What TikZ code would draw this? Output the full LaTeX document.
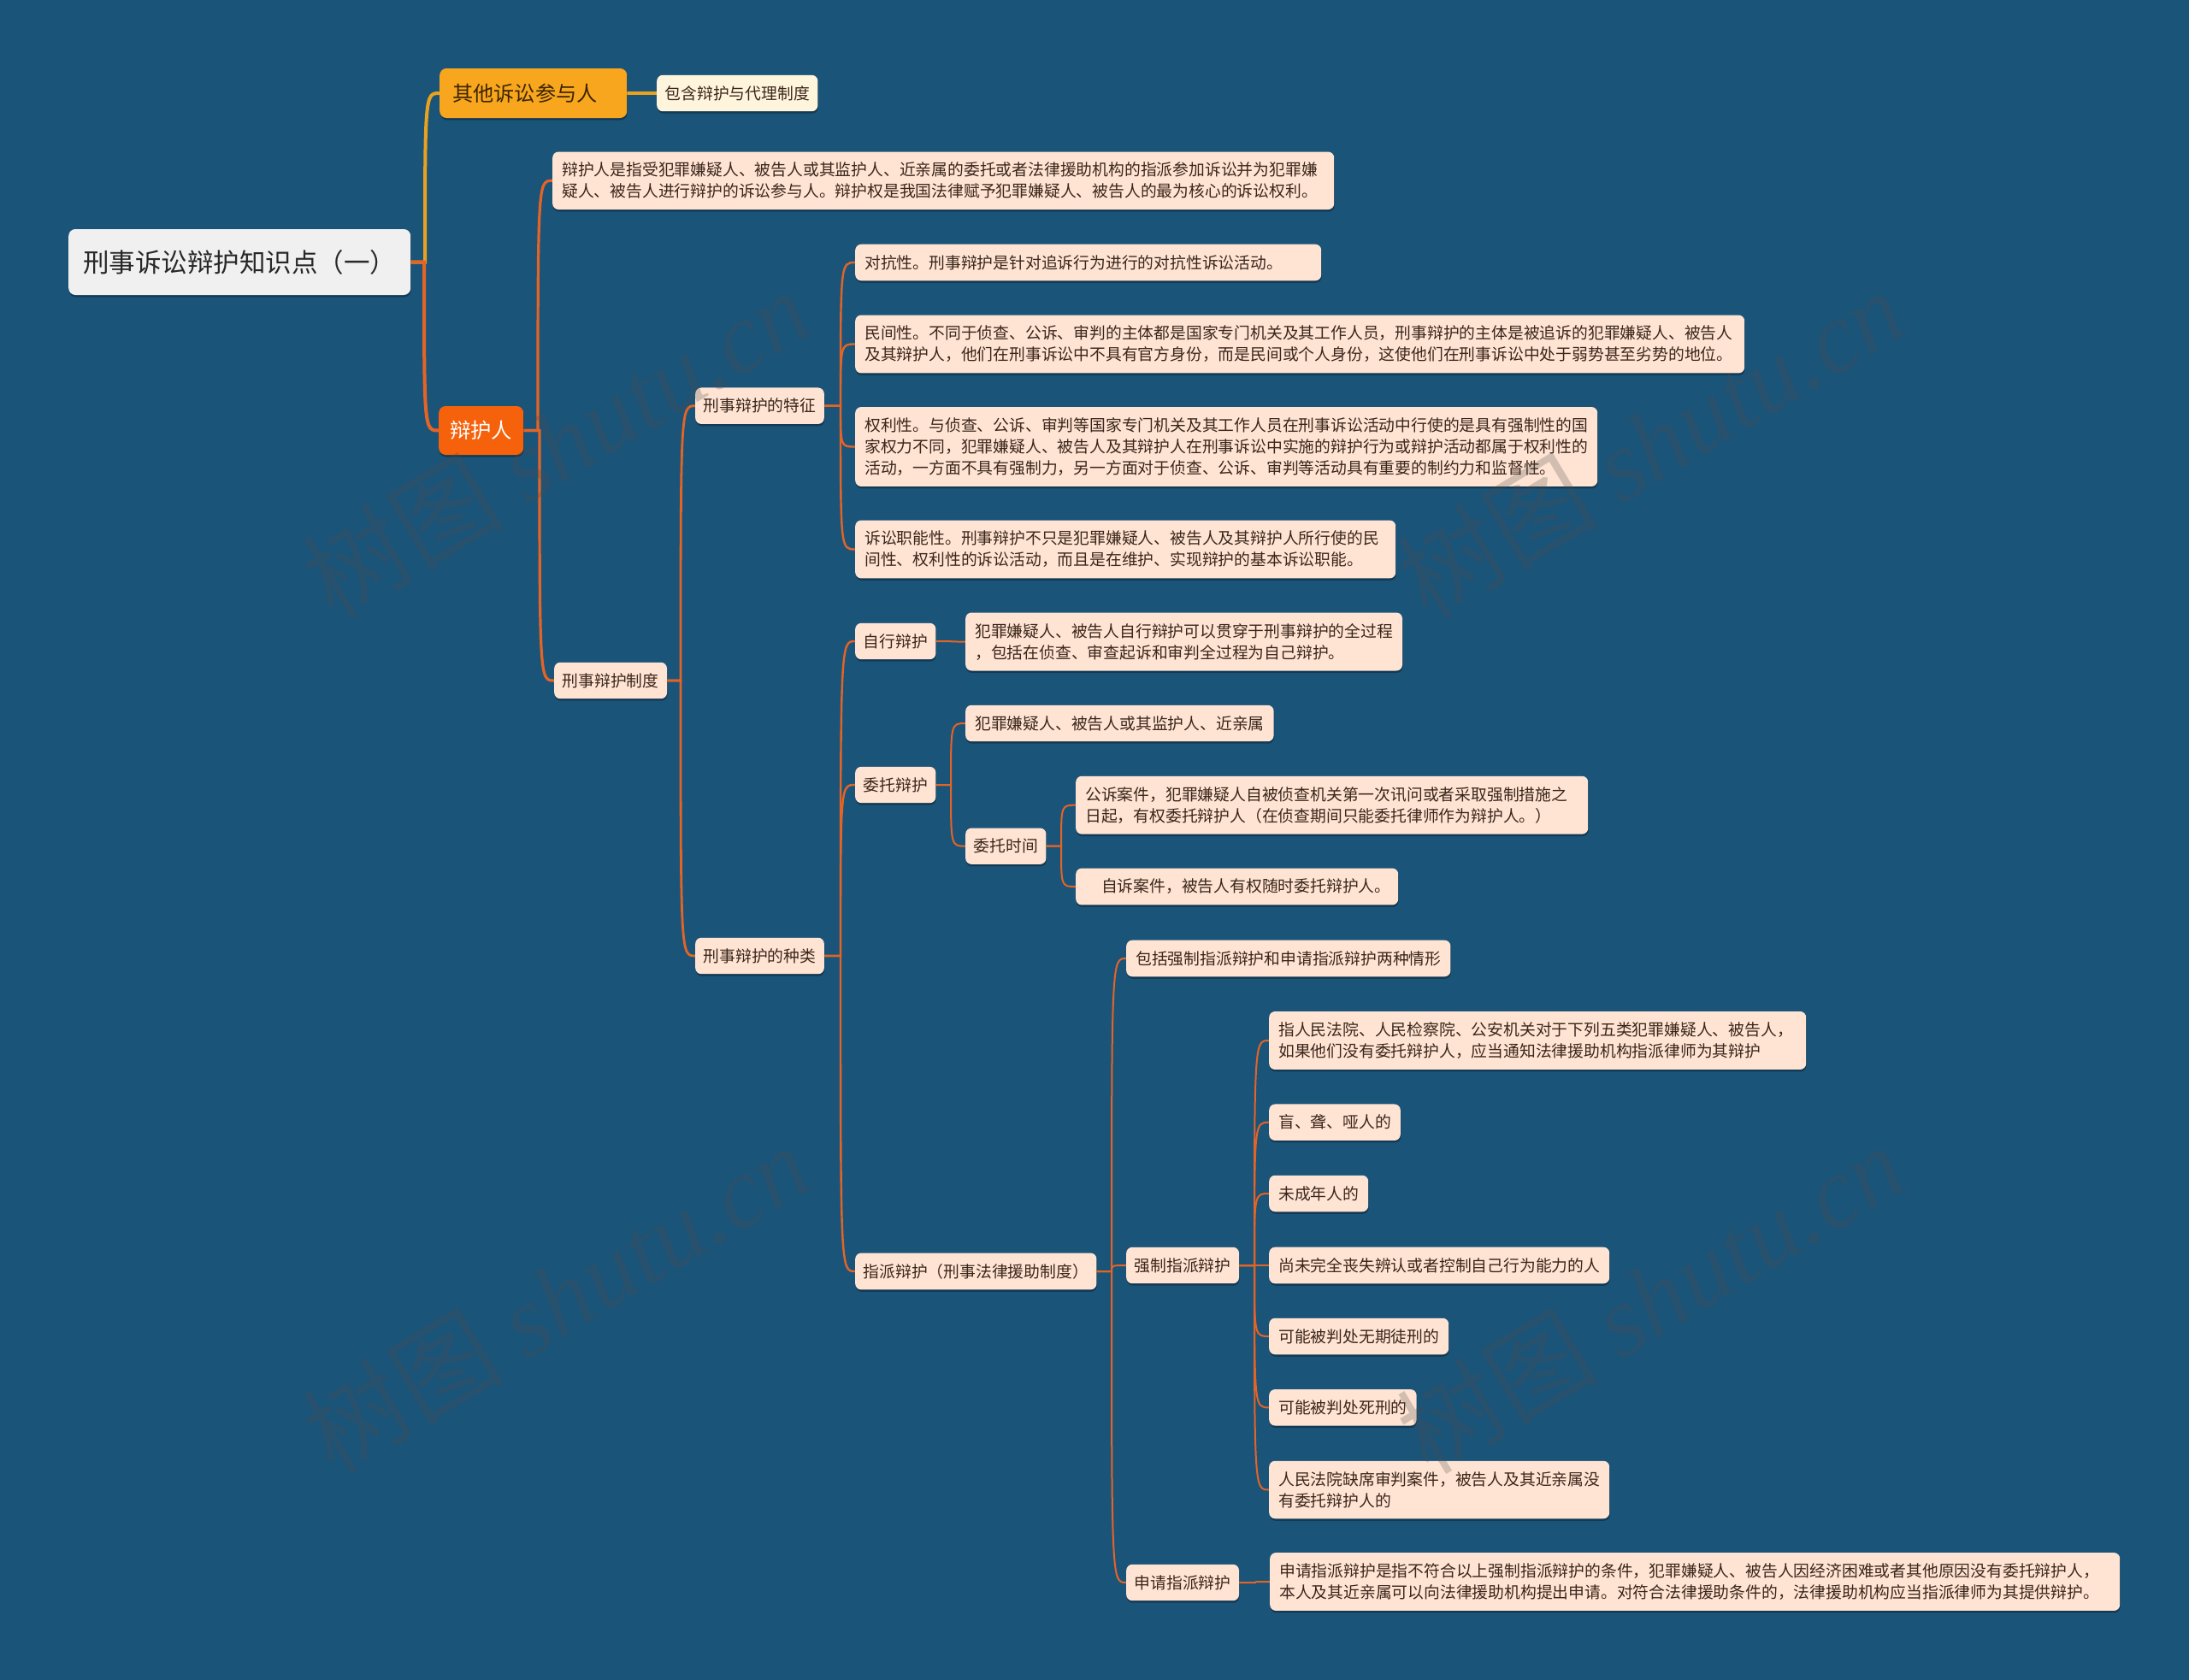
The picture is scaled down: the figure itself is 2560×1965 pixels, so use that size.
\documentclass[tikz,border=0pt]{standalone}
\usepackage{fontspec}
\setmainfont{Noto Sans CJK SC}
\newfontfamily\wmlat{Liberation Serif}
\usetikzlibrary{calc,shadows}
\definecolor{bgblue}{RGB}{27,84,121}
\definecolor{leaf}{RGB}{255,228,212}
\definecolor{ink}{RGB}{58,38,26}
\definecolor{rootfill}{RGB}{240,240,240}
\definecolor{rootink}{RGB}{40,40,40}
\definecolor{amberfill}{RGB}{247,166,30}
\definecolor{amberink}{RGB}{60,36,0}
\definecolor{creamfill}{RGB}{255,244,220}
\definecolor{redfill}{RGB}{246,98,12}
\definecolor{lineorange}{RGB}{228,100,38}
\definecolor{lineamber}{RGB}{232,162,32}
\pgfdeclarelayer{bg}
\pgfdeclarelayer{edges}
\pgfsetlayers{bg,edges,main}
\newcommand\linkto[3]{%
  \draw[#3] let \p1=(#1.east), \p2=(#2.west) in
    (\p1) -- (\x2-17pt,\y1) .. controls (\x2-17pt,\y2) and (\x2-17pt,\y2) .. (\p2);}
\tikzset{
  sh/.style={drop shadow={shadow xshift=0.5pt,shadow yshift=-2.5pt,opacity=0.3,fill=black}},
  box/.style={rounded corners=7pt, fill=leaf, text=ink, sh,
    font=\fontsize{18.8}{25}\selectfont, inner xsep=11pt, inner ysep=12.5pt,
    anchor=west, align=left},
  mid/.style={box, inner xsep=9.5pt},
  edge1/.style={line width=4pt, lineorange},
  edgeA/.style={line width=4pt, lineamber},
  edge2/.style={line width=3.2pt, lineorange},
  edge3/.style={line width=2.8pt, lineorange},
  edge4/.style={line width=2.4pt, lineorange},
  edge5/.style={line width=2pt, lineorange},
  wm/.style={rotate=31, text=black!70, opacity=0.25, font=\fontsize{118}{118}\selectfont},
}
\begin{document}
\begin{tikzpicture}[x=1pt,y=-1pt]
\begin{pgfonlayer}{bg}
\fill[bgblue] (0,0) rectangle (2560,1965);
\end{pgfonlayer}
\useasboundingbox (0,0) rectangle (2560,1965);

% root
\node[rounded corners=8pt, fill=rootfill, text=rootink, sh, anchor=west,
  font=\fontsize{30.5}{36}\selectfont, inner xsep=17pt, minimum height=77pt]
  (root) at (80,306.5) {刑事诉讼辩护知识点（一）};

% level 1
\node[rounded corners=8pt, fill=amberfill, text=amberink, sh, anchor=west,
  font=\fontsize{24.2}{30}\selectfont, inner xsep=15pt, text width=189pt, align=left,
  minimum height=58pt] (other) at (514,109) {其他诉讼参与人};
\node[mid, fill=creamfill, text=ink] (contain) at (768,109) {包含辩护与代理制度};
\node[rounded corners=8pt, fill=redfill, text=white, sh, anchor=west,
  font=\fontsize{24.3}{30}\selectfont, inner xsep=13pt, minimum height=57pt]
  (bhr) at (513,503.5) {辩护人};

% level 2
\node[box, text width=892pt] (def) at (646,211.3)
  {辩护人是指受犯罪嫌疑人、被告人或其监护人、近亲属的委托或者法律援助机构的指派参加诉讼并为犯罪嫌\\疑人、被告人进行辩护的诉讼参与人。辩护权是我国法律赋予犯罪嫌疑人、被告人的最为核心的诉讼权利。};
\node[mid] (sys) at (648,796) {刑事辩护制度};

% level 3
\node[mid] (feat) at (813,474.7) {刑事辩护的特征};
\node[mid] (kind) at (813,1118) {刑事辩护的种类};

% features
\node[box, text width=523pt] (f1) at (1000,307) {对抗性。刑事辩护是针对追诉行为进行的对抗性诉讼活动。};
\node[box, text width=1018pt] (f2) at (1000,402.5)
  {民间性。不同于侦查、公诉、审判的主体都是国家专门机关及其工作人员，刑事辩护的主体是被追诉的犯罪嫌疑人、被告人\\及其辩护人，他们在刑事诉讼中不具有官方身份，而是民间或个人身份，这使他们在刑事诉讼中处于弱势甚至劣势的地位。};
\node[box, text width=846pt] (f3) at (1000,522.5)
  {权利性。与侦查、公诉、审判等国家专门机关及其工作人员在刑事诉讼活动中行使的是具有强制性的国\\家权力不同，犯罪嫌疑人、被告人及其辩护人在刑事诉讼中实施的辩护行为或辩护活动都属于权利性的\\活动，一方面不具有强制力，另一方面对于侦查、公诉、审判等活动具有重要的制约力和监督性。};
\node[box, text width=610pt] (f4) at (1000,642.5)
  {诉讼职能性。刑事辩护不只是犯罪嫌疑人、被告人及其辩护人所行使的民\\间性、权利性的诉讼活动，而且是在维护、实现辩护的基本诉讼职能。};

% kinds
\node[mid] (self) at (1000,750) {自行辩护};
\node[box] (selfL) at (1129,750.5)
  {犯罪嫌疑人、被告人自行辩护可以贯穿于刑事辩护的全过程\\，包括在侦查、审查起诉和审判全过程为自己辩护。};
\node[mid] (ent) at (1000,918) {委托辩护};
\node[box] (ent1) at (1129,846) {犯罪嫌疑人、被告人或其监护人、近亲属};
\node[mid] (entT) at (1129,989.7) {委托时间};
\node[box, text width=577pt] (entT1) at (1258,941.7)
  {公诉案件，犯罪嫌疑人自被侦查机关第一次讯问或者采取强制措施之\\日起，有权委托辩护人（在侦查期间只能委托律师作为辩护人。）};
\node[box, text width=355pt] (entT2) at (1258,1037)
  {\hspace*{18.8pt}自诉案件，被告人有权随时委托辩护人。};
\node[mid] (app) at (1000,1487) {指派辩护（刑事法律援助制度）};
\node[box] (appA) at (1317,1121) {包括强制指派辩护和申请指派辩护两种情形};
\node[mid] (appF) at (1317,1480) {强制指派辩护};
\node[mid] (appR) at (1317,1851) {申请指派辩护};

\node[box, text width=606pt] (c1) at (1484,1217)
  {指人民法院、人民检察院、公安机关对于下列五类犯罪嫌疑人、被告人，\\如果他们没有委托辩护人，应当通知法律援助机构指派律师为其辩护};
\node[box] (c2) at (1484,1312.7) {盲、聋、哑人的};
\node[box] (c3) at (1484,1396) {未成年人的};
\node[box] (c4) at (1484,1480) {尚未完全丧失辨认或者控制自己行为能力的人};
\node[box] (c5) at (1484,1563) {可能被判处无期徒刑的};
\node[box] (c6) at (1484,1646.3) {可能被判处死刑的};
\node[box] (c7) at (1484,1742.5)
  {人民法院缺席审判案件，被告人及其近亲属没\\有委托辩护人的};
\node[box, text width=972pt] (r1) at (1485,1850)
  {申请指派辩护是指不符合以上强制指派辩护的条件，犯罪嫌疑人、被告人因经济困难或者其他原因没有委托辩护人，\\本人及其近亲属可以向法律援助机构提出申请。对符合法律援助条件的，法律援助机构应当指派律师为其提供辩护。};

% connectors
\begin{pgfonlayer}{edges}
\linkto{root}{other}{edgeA}
\linkto{other}{contain}{edgeA}
\linkto{root}{bhr}{edge1}
\linkto{bhr}{def}{edge2}
\linkto{bhr}{sys}{edge2}
\linkto{sys}{feat}{edge3}
\linkto{sys}{kind}{edge3}
\linkto{feat}{f1}{edge4}
\linkto{feat}{f2}{edge4}
\linkto{feat}{f3}{edge4}
\linkto{feat}{f4}{edge4}
\linkto{kind}{self}{edge4}
\linkto{kind}{ent}{edge4}
\linkto{kind}{app}{edge4}
\linkto{self}{selfL}{edge5}
\linkto{ent}{ent1}{edge5}
\linkto{ent}{entT}{edge5}
\linkto{entT}{entT1}{edge5}
\linkto{entT}{entT2}{edge5}
\linkto{app}{appA}{edge5}
\linkto{app}{appF}{edge5}
\linkto{app}{appR}{edge5}
\linkto{appF}{c1}{edge5}
\linkto{appF}{c2}{edge5}
\linkto{appF}{c3}{edge5}
\linkto{appF}{c4}{edge5}
\linkto{appF}{c5}{edge5}
\linkto{appF}{c6}{edge5}
\linkto{appF}{c7}{edge5}
\linkto{appR}{r1}{edge5}
\end{pgfonlayer}

% watermarks
\node[wm] (wm1) at (650,518) {树图 {\wmlat\itshape shutu.cn}};
\node[wm] (wm2) at (1930,518) {树图 {\wmlat\itshape shutu.cn}};
\node[wm] (wm3) at (650,1518) {树图 {\wmlat\itshape shutu.cn}};
\node[wm] (wm4) at (1930,1518) {树图 {\wmlat\itshape shutu.cn}};
\end{tikzpicture}
\end{document}
